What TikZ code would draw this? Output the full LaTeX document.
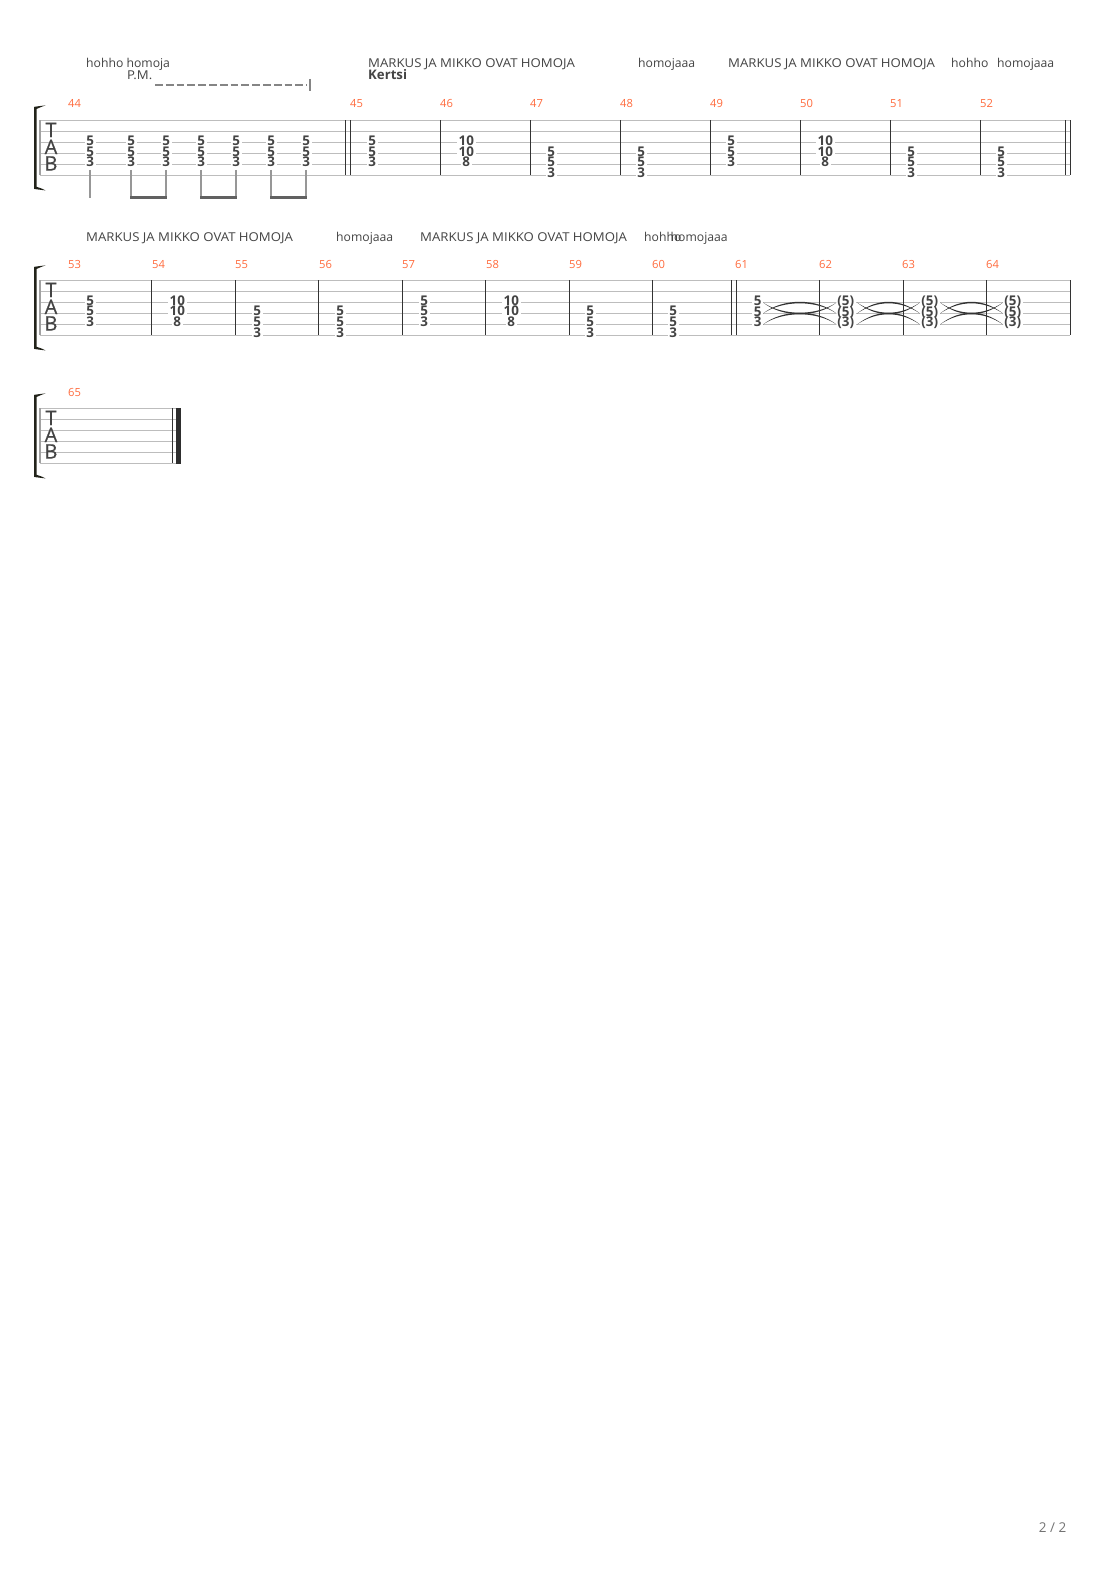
\documentclass[tikz,border=0pt]{standalone}
\usepackage{fontspec}
\setmainfont{Open Sans}
\newfontfamily\tabfont[FakeBold=0.25]{Open Sans}
\definecolor{staffc}{HTML}{BDBDBD}
\definecolor{numc}{HTML}{FF6B3D}
\definecolor{txtc}{HTML}{444444}
\definecolor{barc}{HTML}{333333}
\definecolor{brk}{HTML}{22231A}
\tikzset{
 staffline/.style={draw=staffc,line width=0.9pt},
 barline/.style={draw=barc,line width=1pt},
 lyric/.style={anchor=base west,inner sep=0pt,text=txtc,font=\fontsize{12.2}{13}\selectfont},
 mnum/.style={anchor=base,inner sep=0pt,text=numc,font=\fontsize{11.2}{12}\selectfont},
 fret/.style={anchor=center,fill=white,inner xsep=1.6pt,inner ysep=0pt,text height=9.6pt,text depth=0pt,text=txtc,font=\bfseries\fontsize{13.4}{11}\selectfont},
 tabl/.style={anchor=center,inner sep=0pt,text=txtc,font=\tabfont\fontsize{20}{20}\selectfont},
 stem/.style={draw=staffc!80!black,line width=1.4pt},
 beam/.style={draw=black!62,line width=3pt},
 tiefill/.style={fill=black!80,draw=none},
}
\newcommand{\wide}[1]{\scalebox{1.08}[1]{#1}}
% staff: top y, right x
\newcommand{\tabstaff}[2]{%
 \foreach \k in {0,1,2,3,4,5}{\draw[staffline] (40,{#1+11*\k})--(#2,{#1+11*\k});}
 \draw[draw=staffc!85!black,line width=1.6pt] (40,#1)--(40,{#1+55});
 \node[tabl] at (51,{#1+9.5}) {T};
 \node[tabl] at (51,{#1+26.5}) {A};
 \node[tabl] at (51,{#1+43}) {B};
 \fill[brk] (45.5,{#1-15}) .. controls (41,{#1-13.5}) and (38,{#1-12}) .. (36.7,{#1-11.5})
   -- (36.7,{#1+66.5}) .. controls (38,{#1+67}) and (41,{#1+67.5}) .. (45.5,{#1+70})
   .. controls (41,{#1+69.5}) and (37,{#1+69}) .. (34,{#1+68.5})
   -- (34,{#1-13.5}) .. controls (37,{#1-14}) and (41,{#1-14.5}) .. (45.5,{#1-15}) -- cycle;
}
\newcommand{\bars}[3]{\foreach \x in {#3}{\draw[barline] (\x,#1)--(\x,#2);}}
% chord x, base y (first fret centre), three labels
\newcommand{\chordc}[5]{%
 \node[fret] at ({#1+0.3},#2) {#3};
 \node[fret] at ({#1+0.3},{#2+10.8}) {#4};
 \node[fret] at ({#1+0.3},{#2+21.6}) {#5};
}
% tapered tie between x1 and x2 at y, bulge direction d
\newcommand{\tieshape}[4]{%
 \fill[tiefill] (#1,#3) .. controls ({#1+20},{#3+#4*15.6}) and ({#2-20},{#3+#4*15.6}) .. (#2,#3)
   .. controls ({#2-20},{#3+#4*13.6}) and ({#1+20},{#3+#4*13.6}) .. (#1,#3) -- cycle;
}
\newcommand{\tiegroup}[2]{%
 \tieshape{#1}{#2}{302.5}{1}
 \tieshape{#1}{#2}{313.5}{-1}
 \tieshape{#1}{#2}{324.5}{-1}
}
\begin{document}
\begin{tikzpicture}[x=1pt,y=-1pt]
\useasboundingbox (0,0) rectangle (1110,1570);
\fill[white] (0,0) rectangle (1110,1570);

% ---------- row 1
\tabstaff{120.4}{1070}
\bars{120.4}{175.4}{345.5,350.5,440,530,620,710,800,890,980,1065.5,1070}
\foreach \n/\x in {44/74.5,45/356.5,46/446.5,47/536.5,48/626.5,49/716.5,50/806.5,51/896.5,52/986.5}{\node[mnum] at (\x,108) {\n};}
\node[lyric] at (86,67.6) {hohho homoja};
\node[lyric] at (127,80) {\wide{P.M.}};
\node[lyric] at (368,67.6) {\wide{MARKUS JA MIKKO OVAT HOMOJA}};
\node[lyric,font=\bfseries\fontsize{13.2}{13}\selectfont] at (368,80) {Kertsi};
\node[lyric] at (638,67.6) {homojaaa};
\node[lyric] at (728,67.6) {\wide{MARKUS JA MIKKO OVAT HOMOJA}};
\node[lyric] at (951,67.6) {hohho};
\node[lyric] at (997,67.6) {homojaaa};
\draw[draw=black!48,line width=1.6pt,dash pattern=on 7.8pt off 3pt] (155,85)--(307,85);
\draw[draw=black!48,line width=1.1pt] (310,79)--(310,91);
\foreach \x in {90,131,166,201,236,271,306}{\chordc{\x}{140.6}{5}{5}{3}}
\chordc{372}{140.6}{5}{5}{3}
\chordc{466}{140.6}{10}{10}{8}
\chordc{551}{151.4}{5}{5}{3}
\chordc{641}{151.4}{5}{5}{3}
\chordc{731}{140.6}{5}{5}{3}
\chordc{825}{140.6}{10}{10}{8}
\chordc{911}{151.4}{5}{5}{3}
\chordc{1001}{151.4}{5}{5}{3}
\foreach \x in {90,131,166,201,236,271,306}{\draw[stem] (\x,170)--(\x,198);}
\foreach \a/\b in {131/166,201/236,271/306}{\draw[beam] (\a-0.7,197.5)--(\b+0.7,197.5);}

% ---------- row 2
\tabstaff{280.4}{1070}
\bars{280.4}{335.4}{151.5,235.5,318.5,402.5,485.5,569,652,731.5,736.5,819,903,986,1070}
\foreach \n/\x in {53/74.5,54/158.5,55/241.5,56/325.5,57/408.5,58/492.5,59/575.5,60/658.5,61/741.5,62/825.5,63/908.5,64/992.5}{\node[mnum] at (\x,268) {\n};}
\node[lyric] at (86,241.6) {\wide{MARKUS JA MIKKO OVAT HOMOJA}};
\node[lyric] at (336,241.6) {homojaaa};
\node[lyric] at (420,241.6) {\wide{MARKUS JA MIKKO OVAT HOMOJA}};
\node[lyric] at (644,241.6) {hohho};
\node[lyric] at (670.5,241.6) {homojaaa};
\chordc{90}{300.2}{5}{5}{3}
\chordc{177}{300.2}{10}{10}{8}
\chordc{257}{311}{5}{5}{3}
\chordc{340}{311}{5}{5}{3}
\chordc{424}{300.2}{5}{5}{3}
\chordc{511}{300.2}{10}{10}{8}
\chordc{590}{311}{5}{5}{3}
\chordc{673}{311}{5}{5}{3}
\chordc{757.5}{300.5}{5}{5}{3}
\foreach \x in {845.5,929.5,1012.5}{\chordc{\x}{300.5}{(5)}{(5)}{(3)}}
\tiegroup{763}{836.5}
\tiegroup{857}{920}
\tiegroup{940}{1003}

% ---------- row 3
\tabstaff{408.4}{180.5}
\bars{408.4}{463.4}{172.5}
\fill[black!82] (176,408) rectangle (180.5,463.8);
\node[mnum] at (74.5,396) {65};

% ---------- footer
\node[anchor=base east,inner sep=0pt,text=black!55,font=\fontsize{13.5}{14}\selectfont] at (1066.5,1532) {2 / 2};
\end{tikzpicture}
\end{document}
